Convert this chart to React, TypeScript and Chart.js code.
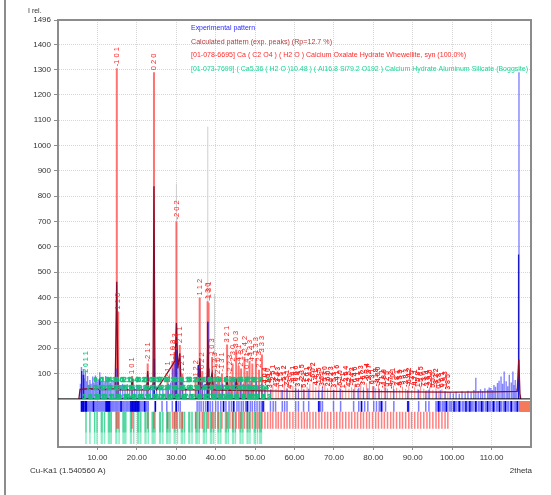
import React, { useEffect, useRef } from "react";
import { Chart, registerables } from "chart.js";

Chart.register(...registerables);

const FONT = "'Liberation Sans Narrow', 'Liberation Sans', Arial, sans-serif";

// ---- axes ----
const xTickValues = [10, 20, 30, 40, 50, 60, 70, 80, 90, 100, 110];
const yTickValues = [100, 200, 300, 400, 500, 600, 700, 800, 900, 1000, 1100, 1200, 1300, 1400, 1496];

// ---- legend ----
const legendLines = [
  "Experimental pattern",
  "Calculated pattern (exp. peaks) (Rp=12.7 %)",
  "[01-078-6695] Ca ( C2 O4 ) ( H2 O ) Calcium Oxalate Hydrate Whewellite, syn (100.0%)",
  "[01-073-7699] ( Ca5.36 ( H2 O )10.48 ) ( Al16.8 Si79.2 O192 ) Calcium Hydrate Aluminum Silicate (Boggsite)",
];

// ---- experimental pattern (sticks) ----
const expX = [
  5.7, 5.95, 6.2, 6.45, 6.7, 6.95, 7.2, 7.5, 7.8, 8.1, 8.4, 8.8, 9.1, 9.5, 9.8, 10.2, 10.6, 10.9, 11.3, 11.7,
  12.1, 12.5, 12.9, 13.3, 13.7, 14.2, 14.6, 14.9, 15.3, 15.8, 16.4, 17.0, 17.6, 18.2, 18.8, 19.4, 20.0, 20.6,
  21.2, 21.8, 22.4, 22.8, 23.4, 24.0, 24.4, 25.0, 25.8, 26.6, 27.4, 28.0, 28.6, 29.1, 29.6, 30.0, 30.4, 31.0,
  31.6, 32.4, 33.5, 35.0, 35.6, 36.1, 36.6, 37.2, 37.7, 38.0, 38.4, 39.0, 39.5, 40.2, 41.0, 41.8, 42.6, 43.3,
  44.0, 44.8, 45.5, 46.3, 47.0, 47.6, 48.3, 49.0, 49.6, 50.3, 51.0, 51.7, 52.5, 54.0, 56.9, 58.1, 60.3, 61.0,
  62.3, 63.6, 66.1, 67.1, 69.9, 71.7, 75.0, 76.3, 77.5, 78.6, 80.1, 81.5, 83.1, 85.2, 88.7, 91.5, 93.3, 94.1,
  96.0, 97.0, 98.2, 99.5, 100.3, 101.0, 101.8, 102.5, 103.3, 104.0, 104.8, 105.5, 106.0, 106.6, 107.2, 107.7,
  108.3, 109.0, 109.4, 109.8, 110.2, 110.6, 111.0, 111.5, 111.9, 112.4, 112.8, 113.2, 113.7, 114.1, 114.5,
  115.0, 115.4, 115.7, 116.0, 116.4, 116.95,
];
const expY = [
  60, 126, 95, 118, 80, 110, 70, 90, 55, 75, 60, 88, 65, 92, 70, 78, 105, 72, 85, 66,
  90, 70, 82, 64, 75, 68, 80, 120, 70, 55, 60, 52, 58, 50, 62, 48, 55, 50,
  52, 48, 60, 95, 50, 60, 158, 48, 46, 44, 50, 60, 65, 120, 140, 220, 150, 130,
  70, 42, 40, 55, 134, 120, 70, 60, 90, 305, 120, 100, 70, 60, 75, 60, 85, 55,
  70, 80, 65, 72, 60, 80, 58, 66, 55, 70, 52, 60, 45, 38, 35, 40, 42, 36,
  38, 40, 34, 45, 36, 40, 38, 44, 36, 42, 50, 40, 45, 38, 34, 36, 32, 36,
  30, 34, 30, 26, 22, 28, 20, 30, 24, 32, 26, 35, 83, 30, 38, 30,
  42, 36, 45, 43, 35, 55, 48, 63, 72, 88, 60, 108, 70, 50, 95,
  65, 108, 55, 75, 40, 1290,
];
const expDarkX = [6.0, 6.5, 10.6, 24.45, 29.95, 35.6, 38.0, 116.85];
const expDarkY = [110, 95, 80, 158, 220, 134, 305, 570];

// ---- calculated pattern (line) ----
const calcX = [
  5.3, 5.6, 8.0, 10.0, 12.0, 14.5, 14.9, 15.2, 15.5, 18.6, 18.8, 19.0, 22.5, 22.75, 23.0, 24.1, 24.35, 24.6,
  25.0, 29.7, 30.05, 30.4, 30.9, 31.3, 35.7, 35.95, 36.3, 37.8, 38.0, 38.3, 39.1, 39.4, 42.7, 42.9, 43.2,
  45.0, 45.2, 45.5, 52.0, 60.0, 70.0, 80.0, 90.0, 100.0, 110.0, 116.5, 116.9, 117.2, 117.4,
];
const calcY = [
  0, 38, 40, 38, 37, 40, 462, 60, 36, 36, 80, 36, 36, 110, 36, 50, 840, 50,
  36, 150, 300, 120, 180, 36, 36, 160, 40, 60, 230, 40, 100, 36, 34, 90, 34,
  34, 80, 34, 32, 30, 30, 29, 28, 27, 28, 30, 155, 20, 0,
];

// ---- gray reference sticks ----
const grayX = [30.05, 38.0, 39.7];
const grayY = [850, 1075, 415];

// ---- Whewellite (red) main peaks ----
const whewX = [
  14.92, 15.28, 18.8, 22.75, 24.35, 27.8, 29.05, 29.55, 30.05, 30.9, 31.55, 34.9, 35.95, 36.6, 37.95, 38.2,
  39.1, 39.9, 40.6, 41.6, 42.9, 43.6, 44.3, 45.2, 45.85, 46.45, 47.3, 48.0, 48.6, 49.3, 50.2, 51.0, 51.75,
];
const whewY = [
  1305, 345, 90, 140, 1290, 75, 150, 185, 700, 213, 100, 70, 400, 110, 385, 380,
  165, 100, 90, 100, 215, 90, 140, 195, 130, 120, 165, 110, 150, 140, 160, 115, 175,
];
const whewHkl = [
  "-1 0 1", "1 1 0", "1 0 1", "-2 1 1", "0 2 0", "2 1 1", "-1 0 3", "2 0 3", "-2 0 2", "2 1 1", "1 2 1",
  "-1 2 2", "1 1 2", "0 2 2", "1 3 0", "-1 3 1", "1 0 3", "-1 2 3", "2 2 0", "-1 3 1", "3 2 1", "-2 2 3",
  "2 3 0", "3 0 3", "-4 1 1", "2 1 3", "-2 4 2", "0 4 1", "-3 2 3", "4 1 1", "-1 3 3", "2 2 3", "3 3 3",
];

// ---- Whewellite (red) minor peaks ----
const whewMinorX = [
  52.5, 53.2, 53.9, 54.5, 55.3, 55.9, 56.6, 57.4, 58.1, 58.8, 59.6, 60.3, 61.0, 61.8, 62.5, 63.2, 63.9, 64.7,
  65.4, 66.2, 66.9, 67.7, 68.4, 69.2, 70.0, 70.7, 71.5, 72.2, 73.0, 73.8, 74.5, 75.3, 76.0, 76.8, 77.5, 78.3,
  79.0, 79.8, 80.6, 81.3, 82.1, 82.8, 83.6, 84.4, 85.1, 85.9, 86.7, 87.4, 88.2, 89.0, 89.7, 90.5, 91.3, 92.0,
  92.8, 93.6, 94.3, 95.1, 95.9, 96.6, 97.4, 98.2, 98.9,
];
const whewMinorY = [
  45, 52, 34, 56, 40, 48, 36, 54, 44, 32, 52, 62, 40, 58, 36, 48, 60, 66,
  46, 54, 34, 60, 42, 50, 36, 56, 44, 34, 52, 40, 46, 58, 38, 54, 46, 62,
  66, 50, 42, 58, 36, 48, 40, 32, 52, 44, 36, 48, 40, 54, 34, 46, 38, 50,
  40, 34, 46, 36, 42, 32, 38, 30, 28,
];
const whewMinorHkl = [
  "-4 0 4", "1 5 0", "3 4 1", "-2 5 1", "4 2 1", "-3 4 3", "1 1 5", "-5 1 2", "2 5 1", "4 3 0", "-4 4 1",
  "0 6 0", "3 1 4", "-2 3 5", "5 1 1", "-1 6 1", "2 4 3", "-6 0 2", "4 4 1", "1 3 5", "-3 6 1", "5 3 0",
  "2 6 0", "-6 2 3", "3 5 3", "-4 1 6", "6 1 0", "1 7 1", "-2 6 4", "4 2 5", "-5 4 2", "0 4 6", "5 4 1",
  "-1 7 3", "3 6 2", "-6 3 4", "2 2 7", "6 3 1", "-3 1 8", "4 6 0", "-7 1 1", "1 8 0", "5 2 5", "-4 7 2",
  "7 0 1", "2 8 1", "-6 5 3", "3 3 7", "-2 8 3", "6 4 2", "-7 3 5", "4 7 1", "1 5 8", "-5 6 5", "7 3 0",
  "-3 8 4", "2 9 0", "5 5 5", "-8 2 2", "0 6 8", "6 6 1", "-1 9 3", "3 8 5",
];

// ---- Boggsite (green) ----
const boggMainX = [7.1];
const boggMainY = [95];
const boggMainHkl = ["2 0 1 1"];
const boggX = [
  8.1, 9.3, 9.9, 11.0, 11.2, 11.8, 12.8, 13.1, 13.5, 14.7, 14.9, 15.5, 16.5, 16.8, 17.2, 18.4, 18.6, 19.2,
  20.2, 20.5, 21.0, 22.1, 22.3, 22.9, 23.9, 24.2, 24.6, 25.8, 26.0, 26.6, 27.6, 27.9, 28.4, 29.5, 29.7, 30.3,
  31.3, 31.6, 32.1, 33.2, 33.4, 34.0, 35.0, 35.3, 35.8, 36.9, 37.1, 37.6, 38.7, 39.0, 39.5, 40.6, 40.8, 41.3,
  42.5, 42.7, 43.2, 44.3, 44.5, 45.0, 46.2, 46.4, 46.9, 48.0, 48.2, 48.7, 49.8, 50.0, 50.6, 51.2, 51.4, 51.6,
];
const boggY = [
  9, 42, 9, 75, 42, 9, 75, 42, 9, 75, 42, 9, 75, 42, 9, 75, 42, 9,
  75, 42, 9, 75, 42, 9, 75, 42, 9, 75, 42, 9, 75, 42, 9, 75, 42, 9,
  75, 42, 9, 75, 42, 9, 75, 42, 9, 75, 42, 9, 75, 42, 9, 75, 42, 9,
  75, 42, 9, 75, 42, 9, 75, 42, 9, 75, 42, 9, 75, 42, 9, 75, 42, 9,
];
const boggHkl = [
  "1 0 1", "2 0 0", "1 1 1", "0 0 2", "2 1 1", "3 0 1", "1 0 3", "0 2 2", "3 1 1", "4 0 0", "2 2 0", "1 2 3",
  "4 1 1", "3 2 1", "0 0 4", "2 0 4", "5 0 1", "4 2 0", "1 3 2", "5 1 2", "3 3 1", "6 0 0", "2 3 3", "4 2 3",
  "1 1 5", "6 1 1", "5 3 0", "3 0 5", "0 4 2", "6 2 2", "7 0 1", "2 4 2", "5 1 4", "3 4 1", "7 2 1", "0 2 6",
  "6 3 1", "4 4 0", "8 0 0", "1 5 2", "5 4 1", "7 1 4", "8 2 2", "3 5 2", "2 0 8", "9 1 0", "6 4 2", "4 1 7",
  "1 6 1", "8 3 3", "5 5 3", "10 0 0", "7 5 0", "2 6 4", "9 3 2", "4 2 9", "11 1 0", "6 6 0", "3 7 1", "10 4 0",
  "8 5 3", "12 0 0", "1 7 5", "5 7 2", "11 3 3", "9 6 1", "2 8 2", "13 1 0", "7 7 2", "12 4 2", "4 8 4", "10 6 2",
];

// ---- peak-position ticks below the baseline ----
const blueTickX = [
  5.9, 6.1, 6.3, 6.6, 6.8, 7.0, 7.3, 7.6, 7.8, 8.1, 8.4, 8.6, 8.9, 9.2, 9.5, 9.7, 10.0, 10.3, 10.6, 10.9, 11.1,
  11.4, 11.7, 12.0, 12.3, 12.6, 12.9, 13.2, 13.5, 13.8, 14.1, 14.5, 14.8, 15.1, 15.5, 15.9, 16.3, 16.6, 17.0,
  17.4, 17.7, 18.1, 18.4, 18.7, 19.0, 19.3, 19.6, 20.0, 20.3, 20.6, 20.9, 21.3, 21.7, 22.1, 22.5, 22.9,
  24.7, 26.4, 27.6, 29.0, 29.9, 30.5, 31.0, 35.3, 35.8, 36.3, 36.9, 37.5, 38.0, 38.6, 39.2, 40.0, 40.6, 41.3,
  42.0, 42.6, 43.4, 44.0, 44.5, 45.4, 45.9, 46.5, 47.0, 47.6, 48.2, 48.8, 49.3, 49.9, 50.5, 51.1, 51.6, 52.2,
  53.9, 54.6, 55.2, 56.9, 57.5, 58.1, 60.3, 61.0, 62.3, 63.6, 66.1, 66.6, 67.1, 69.9, 71.7, 75.0, 76.3, 77.0,
  77.8, 78.6, 80.1, 80.8, 81.5, 82.3, 83.1, 85.2, 88.7, 89.0, 91.5, 93.3, 94.1, 95.9, 96.3, 96.7, 97.1, 97.6,
  98.0, 98.5, 98.9, 99.4, 99.8, 100.3, 100.8, 101.2, 101.7, 102.1, 102.6, 103.0, 103.5, 104.0, 104.4, 104.9,
  105.3, 105.8, 106.2, 106.7, 107.1, 107.6, 108.0, 108.5, 108.9, 109.4, 109.8, 110.3, 110.7, 111.2, 111.6,
  112.1, 112.5, 113.0, 113.4, 113.9, 114.3, 114.8, 115.2, 115.7, 116.1, 116.6, 117.0,
];
const blueTickDarkX = [
  6.0, 6.4, 6.9, 7.2, 9.0, 12.2, 12.5, 12.8, 13.1, 16.0, 18.5, 18.9, 19.3, 19.7, 20.1, 20.5, 22.0, 24.7, 30.0,
  38.0, 42.0, 44.6, 48.0, 52.0, 66.2, 77.0, 82.0, 88.8, 96.6, 98.5, 100.5, 101.8, 103.5, 104.5, 106.0, 107.5,
  109.0, 110.5, 112.0, 113.5, 115.0, 116.5,
];
const orangeBlockX = [117.1, 120];

type Pt = { x: number; y: number | null };

function sticks(xs: number[], lo: number | number[], hi: number | number[]): Pt[] {
  const out: Pt[] = [];
  xs.forEach((x, i) => {
    const a = Array.isArray(lo) ? lo[i] : lo;
    const b = Array.isArray(hi) ? hi[i] : hi;
    out.push({ x, y: a }, { x, y: b }, { x, y: null });
  });
  return out;
}

function lineDs(data: Pt[], color: string, width: number) {
  return {
    type: "line" as const,
    data,
    borderColor: color,
    backgroundColor: color,
    borderWidth: width,
    pointRadius: 0,
    pointHoverRadius: 0,
    fill: false,
    tension: 0,
    spanGaps: false,
    borderCapStyle: "butt" as const,
  };
}

const labelPlugin = {
  id: "peakLabels",
  afterDatasetsDraw(chart: any) {
    const { ctx, chartArea, scales } = chart;
    const xs = scales.x;
    const ys = scales.y;
    ctx.save();
    ctx.beginPath();
    ctx.rect(chartArea.left, chartArea.top, chartArea.right - chartArea.left, chartArea.bottom - chartArea.top);
    ctx.clip();

    // Boggsite labels, horizontal
    ctx.font = `bold 7px ${FONT}`;
    ctx.fillStyle = "#14c47f";
    ctx.strokeStyle = "rgba(20,190,120,0.7)";
    ctx.lineWidth = 0.7;
    ctx.textAlign = "center";
    ctx.textBaseline = "middle";
    boggX.forEach((v, i) => {
      const px = xs.getPixelForValue(v);
      const py = ys.getPixelForValue(boggY[i]);
      ctx.fillText(boggHkl[i], px, py);
      ctx.strokeText(boggHkl[i], px, py);
    });

    const vertical = (X: number[], Y: number[], L: string[], font: string, color: string) => {
      ctx.font = font;
      ctx.fillStyle = color;
      ctx.textAlign = "left";
      ctx.textBaseline = "middle";
      X.forEach((v, i) => {
        const px = xs.getPixelForValue(v);
        const py = ys.getPixelForValue(Y[i]) - 2;
        ctx.save();
        ctx.translate(px, py);
        ctx.rotate(-Math.PI / 2);
        ctx.fillText(L[i], 0, 0);
        ctx.restore();
      });
    };
    vertical(boggMainX, boggMainY, boggMainHkl, `bold 7px ${FONT}`, "#17cf88");
    vertical(whewMinorX, whewMinorY, whewMinorHkl, `bold 7px ${FONT}`, "#ff1e1e");
    vertical(whewX, whewY, whewHkl, `7.5px ${FONT}`, "#ff2020");
    ctx.restore();
  },
};

const framePlugin = {
  id: "frameAndTexts",
  afterDraw(chart: any) {
    const { ctx, chartArea } = chart;
    ctx.save();
    ctx.strokeStyle = "#8c8c8c";
    ctx.lineWidth = 2;
    ctx.beginPath();
    ctx.moveTo(5, 0);
    ctx.lineTo(5, 495);
    ctx.stroke();
    ctx.beginPath();
    ctx.moveTo(chartArea.left - 1, chartArea.top);
    ctx.lineTo(chartArea.right, chartArea.top);
    ctx.lineTo(chartArea.right, chartArea.bottom + 1);
    ctx.stroke();

    const legendColors = ["#2b2bff", "#b53a3a", "#ff2a2a", "#1fd394"];
    const legendWidths = [64, 141, 275, 337];
    const legendY = [28, 41.5, 55, 68.5];
    ctx.font = `8px ${FONT}`;
    ctx.textAlign = "left";
    ctx.textBaseline = "middle";
    legendLines.forEach((t, i) => {
      ctx.fillStyle = legendColors[i];
      ctx.fillText(t, 191, legendY[i], legendWidths[i]);
    });

    ctx.fillStyle = "#333";
    ctx.font = `7px ${FONT}`;
    ctx.fillText("I rel.", 28, 11);
    ctx.font = `8px ${FONT}`;
    ctx.fillText("Cu-Ka1 (1.540560 A)", 30, 471);
    ctx.textAlign = "right";
    ctx.fillText("2theta", 532, 471);
    ctx.restore();
  },
};

export default function App() {
  const ref = useRef<HTMLCanvasElement | null>(null);
  useEffect(() => {
    document.body.style.margin = "0";
    const canvas = ref.current;
    if (!canvas) return;

    const layers = [
      lineDs(sticks([...boggMainX, ...boggX], -51, -134), "rgba(20,200,125,0.75)", 1.5),
      lineDs(sticks([...boggMainX, ...boggX], -134, -178), "rgba(60,225,160,0.6)", 1.5),
      lineDs(sticks([...whewX, ...whewMinorX], -51, -118), "rgba(255,60,60,0.65)", 1.5),
      lineDs(sticks(blueTickX, -8, -51), "rgba(70,70,255,0.7)", 1.5),
      lineDs(sticks(blueTickDarkX, -8, -51), "#0000dd", 1.5),
      lineDs(orangeBlockX.map((x) => ({ x, y: -30 })), "#f47a5a", 11),
      lineDs(sticks(grayX, 0, grayY), "#cfcfcf", 1),
      lineDs(sticks(whewX, 0, whewY), "rgba(255,80,80,0.8)", 2),
      lineDs(sticks(whewMinorX, 0, whewMinorY), "rgba(255,60,60,0.6)", 1),
      lineDs(sticks(expX, 0, expY), "rgba(50,50,255,0.6)", 1.4),
      lineDs(sticks(expDarkX, 0, expDarkY), "#1a1acc", 1.3),
      lineDs(calcX.map((x, i) => ({ x, y: calcY[i] })), "#8a0a2a", 1.3),
      lineDs([{ x: 0, y: 0 }, { x: 120, y: 0 }], "#000000", 1),
    ];
    const datasets = layers.reverse();

    const tickFont = { family: FONT, size: 8 };
    const chart = new Chart(canvas, {
      type: "line",
      data: { datasets: datasets as any },
      options: {
        animation: false,
        responsive: false,
        maintainAspectRatio: false,
        events: [],
        layout: { padding: { left: 0, right: 20, top: 20, bottom: 0 } },
        plugins: { legend: { display: false }, tooltip: { enabled: false } },
        scales: {
          x: {
            type: "linear",
            min: 0,
            max: 120,
            afterBuildTicks: (s: any) => {
              s.ticks = xTickValues.map((v) => ({ value: v }));
            },
            afterFit: (s: any) => {
              s.height = 48;
            },
            ticks: {
              font: tickFont,
              color: "#333",
              padding: 3,
              maxRotation: 0,
              autoSkip: false,
              callback: (v: any) => Number(v).toFixed(2),
            },
            grid: { color: "#d6d6d6", lineWidth: 1, tickLength: 3, tickColor: "#8c8c8c" },
            border: { color: "#8c8c8c", width: 2, dash: [1, 1] },
          },
          y: {
            type: "linear",
            min: -190,
            max: 1496,
            afterBuildTicks: (s: any) => {
              s.ticks = yTickValues.map((v) => ({ value: v }));
            },
            afterFit: (s: any) => {
              s.width = 58;
            },
            ticks: {
              font: tickFont,
              color: "#333",
              padding: 3,
              autoSkip: false,
              callback: (v: any) => String(v),
            },
            grid: { color: "#d6d6d6", lineWidth: 1, tickLength: 4, tickColor: "#8c8c8c" },
            border: { color: "#8c8c8c", width: 2, dash: [1, 1] },
          },
        },
      },
      plugins: [labelPlugin, framePlugin],
    });
    return () => chart.destroy();
  }, []);

  return <canvas ref={ref} width={551} height={495} style={{ display: "block" }} />;
}
